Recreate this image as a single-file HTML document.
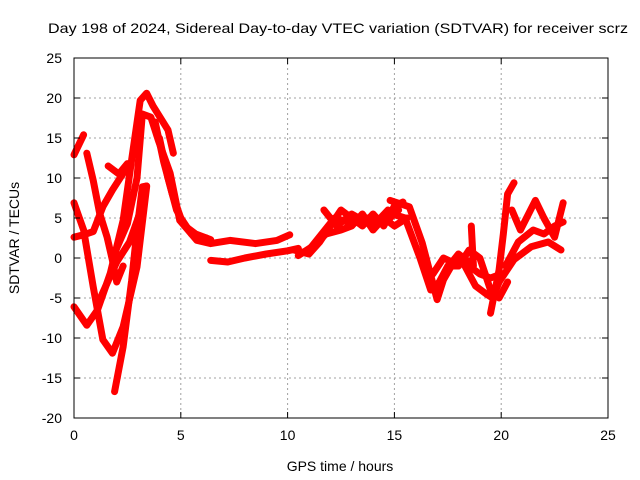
<!DOCTYPE html>
<html><head><meta charset="utf-8"><style>
body{margin:0;background:#fff;}
svg{display:block;font-family:"Liberation Sans",sans-serif;}
</style></head><body>
<svg id="chart" width="640" height="480">
<rect width="640" height="480" fill="#fff"/>
<text x="48" y="33" font-size="14" textLength="580" lengthAdjust="spacingAndGlyphs">Day 198 of 2024, Sidereal Day-to-day VTEC variation (SDTVAR) for receiver scrz</text>
<text x="340" y="471" font-size="14" text-anchor="middle">GPS time / hours</text>
<text x="19" y="238" font-size="14" text-anchor="middle" transform="rotate(-90 19 238)">SDTVAR / TECUs</text>
<g id="grid"></g><g id="series"></g><g id="axes"></g>
</svg>
<script>
const xTicks=[0,5,10,15,20,25];
const yTicks=[25,20,15,10,5,0,-5,-10,-15,-20];
const s1=[[0,12.9],[0.45,15.4]];
const s2=[[0,6.9],[0.45,3.5],[0.9,-3.6],[1.35,-10.2],[1.8,-11.9],[2.3,-8.6],[2.95,-1.1],[3.4,8.9]];
const s3=[[0,-6.1],[0.6,-8.4],[1.1,-6.5],[1.7,-1.9],[2.3,4.7],[2.7,12.3],[3.1,19.7],[3.4,20.6],[3.7,19],[4.4,16],[4.65,13.1]];
const s4=[[1.8,0],[2.5,4.3],[2.95,10],[3.2,18],[3.6,17.6],[3.95,14.7],[4.5,10.6],[4.95,4.7],[5.75,2.2],[6.4,1.8],[7.3,2.2],[8.5,1.8],[9.5,2.2],[10.1,2.9]];
const s4b=[[3.8,17],[4.2,12],[4.6,8],[5.0,5],[5.5,3],[6.2,2.5]];
const s4c=[[4.0,15],[4.4,10],[4.8,6],[5.2,4],[5.7,3],[6.4,2.3]];
const s5=[[0.6,13.1],[0.9,9.7],[1.2,5.6],[1.55,2.6],[1.8,-0.3],[2.0,-3],[2.3,-1]];
const s6=[[0,2.6],[0.45,2.9],[0.9,3.3],[1.35,6.4],[1.8,8.5],[2.4,11],[2.6,11.5]];
const s6b=[[1.6,11.5],[2.1,10.5],[2.5,11.8]];
const s7=[[1.9,-16.7],[2.3,-11.1],[2.7,-2.8],[2.95,3.5],[3.2,8.9],[3.4,9]];
const s8=[[1.2,-5.2],[2.0,-0.5],[2.6,2],[3.0,5],[3.4,9]];
const s9=[[6.4,-0.3],[7.2,-0.5],[8,0],[9,0.5],[10,0.9],[10.5,1.2]];
const m1=[[10.3,1],[11,0.5],[11.5,2],[12,4],[12.5,6],[13,5],[13.5,4],[14,5.5],[14.5,4],[15,6.5],[15.4,7]];
const m2=[[10.5,0.3],[11.2,1.5],[11.8,3],[12.5,3.5],[13,4],[13.5,5.5],[14,3.5],[14.5,5],[15,4],[15.6,5]];
const m3=[[11.7,6],[12.3,4],[13,5.5],[14,4],[14.7,6]];
const m4=[[11,1],[11.6,3],[12.2,5],[12.8,4.5],[13.4,5],[14,5],[14.6,4.5],[15.2,6]];
const r1=[[14.8,7.2],[15.7,6.4],[16.3,1.9],[17,-5.2],[17.3,-2.7],[17.9,0.1],[18.5,-1],[19,-2],[19.5,-2.5],[20,-2]];
const r2=[[14.9,5.5],[15.5,5],[16.2,0],[16.7,-4],[17.1,-3],[17.5,-1],[18,-1],[18.5,1],[19,0],[19.5,-4],[19.9,-5],[20.3,-3]];
const r3=[[19.5,-6.9],[19.9,-1.5],[20.1,3],[20.3,8],[20.6,9.4]];
const r4=[[18.3,-1],[18.8,-3.5],[19.3,-4.5],[19.6,-5],[19.9,-3]];
const r5=[[20.5,6],[20.9,3.5],[21.6,7.2],[22,5],[22.5,2.6],[22.9,6.9]];
const r6=[[19.9,-3],[20.6,-0.2],[21.4,1.4],[22.2,2],[22.8,1]];
const r7=[[20.2,-1],[20.8,2],[21.5,3.5],[22,3],[22.5,4],[22.9,4.5]];
const r8=[[18.6,4],[18.7,-1]];
const r9=[[16.8,-2],[17.3,0],[17.7,-0.5],[18,0.5],[18.5,-0.5]];
const allSeries=[s1,s2,s3,s4,s4b,s4c,s5,s6,s6b,s7,s8,s9,m1,m2,m3,m4,r1,r2,r3,r4,r5,r6,r7,r8,r9];
const NS="http://www.w3.org/2000/svg";
const L=74,R=608,T=58,B=418,X0=0,X1=25,Y0=-20,Y1=25;
function xs(v){return L+(v-X0)/(X1-X0)*(R-L);}
function ys(v){return B-(v-Y0)/(Y1-Y0)*(B-T);}
function mk(tag,attrs,parent){const e=document.createElementNS(NS,tag);for(const k in attrs)e.setAttribute(k,attrs[k]);parent.appendChild(e);return e;}
const grid=document.getElementById('grid'),axes=document.getElementById('axes'),ser=document.getElementById('series');
xTicks.forEach(t=>{
  const x=xs(t);
  if(t>X0&&t<X1){const g=mk('line',{x1:x,x2:x,y1:T,y2:B,stroke:'#a0a0a0','stroke-dasharray':'2,3'},grid);
  
  }
  mk('line',{x1:x,x2:x,y1:B,y2:B-6,stroke:'#000'},axes);
  mk('line',{x1:x,x2:x,y1:T,y2:T+6,stroke:'#000'},axes);
  const tx=mk('text',{x:x,y:B+22,'font-size':14,'text-anchor':'middle'},axes);tx.textContent=t;
  
  
});
yTicks.forEach(t=>{
  const y=ys(t);
  if(t>Y0&&t<Y1){const g=mk('line',{x1:L,x2:R,y1:y,y2:y,stroke:'#a0a0a0','stroke-dasharray':'2,3'},grid);
  
  }
  mk('line',{x1:L,x2:L+6,y1:y,y2:y,stroke:'#000'},axes);
  mk('line',{x1:R,x2:R-6,y1:y,y2:y,stroke:'#000'},axes);
  const tx=mk('text',{x:L-12,y:y+5,'font-size':14,'text-anchor':'end'},axes);tx.textContent=t;
  
  
});
const fr=mk('rect',{x:L,y:T,width:R-L,height:B-T,fill:'none',stroke:'#000'},axes);


allSeries.forEach(s=>{
  const pts=s.map(p=>xs(p[0])+','+ys(p[1])).join(' ');
  const pl=mk('polyline',{points:pts,fill:'none',stroke:'#ff0000','stroke-width':7,'stroke-linejoin':'round','stroke-linecap':'round'},ser);
  
  
});
</script>
</body></html>
